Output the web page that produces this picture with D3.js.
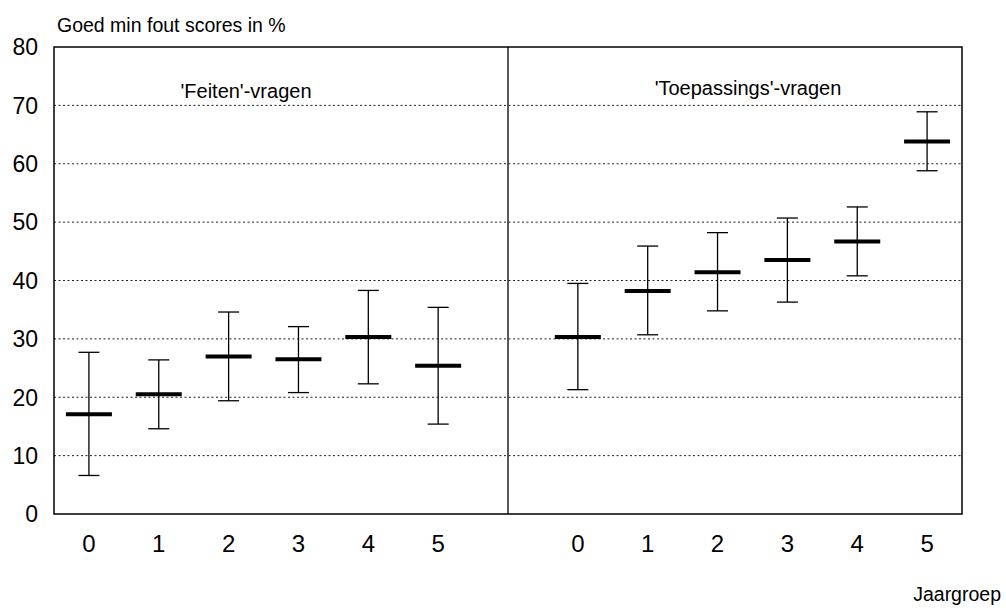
<!DOCTYPE html>
<html>
<meta charset="utf-8">
<script src="https://cdn.jsdelivr.net/npm/d3@7/dist/d3.min.js"></script>
<style>
body{ margin:0; background:white; }
text{ font-family: "Liberation Sans", Arial, sans-serif; fill:black; }
.grid{ stroke:#222; stroke-width:1; stroke-dasharray:2,2.5; }
.frame{ fill:none; stroke:black; stroke-width:1.5; }
.whisker{ stroke:black; stroke-width:1.3; }
.mean{ stroke:black; stroke-width:4; }
</style>
<body>
<div id="chart"></div>
<script>
// jaargroepen per panel
var groups = ["0","1","2","3","4","5"];
var panelTitles = ["'Feiten'-vragen", "'Toepassings'-vragen"];

// gemiddelde en grenzen
var feitenMean  = [17.1, 20.5, 27.0, 26.5, 30.3, 25.4];
var feitenLow   = [6.6, 14.6, 19.4, 20.8, 22.3, 15.4];
var feitenHigh  = [27.7, 26.4, 34.6, 32.1, 38.3, 35.4];

var toepMean = [30.3, 38.2, 41.4, 43.5, 46.7, 63.8];
var toepLow  = [21.3, 30.7, 34.8, 36.3, 40.8, 58.8];
var toepHigh = [39.5, 45.9, 48.2, 50.7, 52.6, 68.9];

var yTicks = [0, 10, 20, 30, 40, 50, 60, 70, 80];

var width = 1006, height = 610;
var plotL = 54, plotR = 962, plotT = 47, plotB = 514;

// 13 slots: 6 per panel + one empty slot for the divider
var slots = d3.range(13).map(String);
var x = d3.scaleBand().domain(slots).range([plotL, plotR]);
var y = d3.scaleLinear().domain([0, 80]).range([plotB, plotT]);

function slotOf(p, i){ return String(p == 0 ? i : i + 7); }

var rows = [];
groups.forEach(function(g, i){
  rows.push({panel:0, g:g, slot:slotOf(0,i), mean:feitenMean[i], lo:feitenLow[i], hi:feitenHigh[i]});
});
groups.forEach(function(g, i){
  rows.push({panel:1, g:g, slot:slotOf(1,i), mean:toepMean[i], lo:toepLow[i], hi:toepHigh[i]});
});

var svg = d3.select("#chart").append("svg")
  .attr("width", width).attr("height", height);

// gridlines
svg.selectAll(".grid").data(yTicks.filter(function(d){ return d > 0 && d < 80; }))
  .enter().append("line")
  .attr("class", "grid")
  .attr("x1", plotL).attr("x2", plotR)
  .attr("y1", function(d){ return y(d); })
  .attr("y2", function(d){ return y(d); });

// frame + divider
svg.append("rect").attr("class", "frame")
  .attr("x", plotL).attr("y", plotT)
  .attr("width", plotR - plotL).attr("height", plotB - plotT);

var divX = x("6") + x.bandwidth() / 2;
svg.append("line")
  .attr("x1", divX).attr("x2", divX)
  .attr("y1", plotT).attr("y2", plotB)
  .style("stroke", "black").style("stroke-width", 1.3);

// y axis labels
svg.selectAll(".ylab").data(yTicks).enter().append("text")
  .attr("class", "ylab")
  .attr("x", 38)
  .attr("y", function(d){ return y(d); })
  .attr("dy", "0.36em")
  .attr("text-anchor", "end")
  .style("font-size", "23px")
  .text(function(d){ return d; });

// x axis labels
svg.selectAll(".xlab").data(rows).enter().append("text")
  .attr("class", "xlab")
  .attr("x", function(d){ return x(d.slot) + x.bandwidth() / 2; })
  .attr("y", 552)
  .attr("text-anchor", "middle")
  .style("font-size", "24px")
  .text(function(d){ return d.g; });

// error bars
var capW = 21, meanW = 46;
var bars = svg.selectAll(".bar").data(rows).enter().append("g")
  .attr("class", "bar")
  .attr("transform", function(d){ return "translate(" + (x(d.slot) + x.bandwidth() / 2) + ",0)"; });

bars.append("line").attr("class", "whisker")
  .attr("x1", 0).attr("x2", 0)
  .attr("y1", function(d){ return y(d.lo); })
  .attr("y2", function(d){ return y(d.hi); });
bars.append("line").attr("class", "whisker")
  .attr("x1", -capW / 2).attr("x2", capW / 2)
  .attr("y1", function(d){ return y(d.hi); })
  .attr("y2", function(d){ return y(d.hi); });
bars.append("line").attr("class", "whisker")
  .attr("x1", -capW / 2).attr("x2", capW / 2)
  .attr("y1", function(d){ return y(d.lo); })
  .attr("y2", function(d){ return y(d.lo); });
bars.append("line").attr("class", "mean")
  .attr("x1", -meanW / 2).attr("x2", meanW / 2)
  .attr("y1", function(d){ return y(d.mean); })
  .attr("y2", function(d){ return y(d.mean); });

// panel titles
svg.append("text")
  .attr("x", 246).attr("y", 98)
  .attr("text-anchor", "middle")
  .style("font-size", "20px")
  .text(panelTitles[0]);
svg.append("text")
  .attr("x", 748).attr("y", 95)
  .attr("text-anchor", "middle")
  .style("font-size", "20px")
  .text(panelTitles[1]);

// axis titles
svg.append("text")
  .attr("x", 57).attr("y", 32)
  .style("font-size", "19.5px")
  .text("Goed min fout scores in %");
svg.append("text")
  .attr("x", 1001).attr("y", 601)
  .attr("text-anchor", "end")
  .style("font-size", "19.5px")
  .text("Jaargroep");
</script>
</body>
</html>
